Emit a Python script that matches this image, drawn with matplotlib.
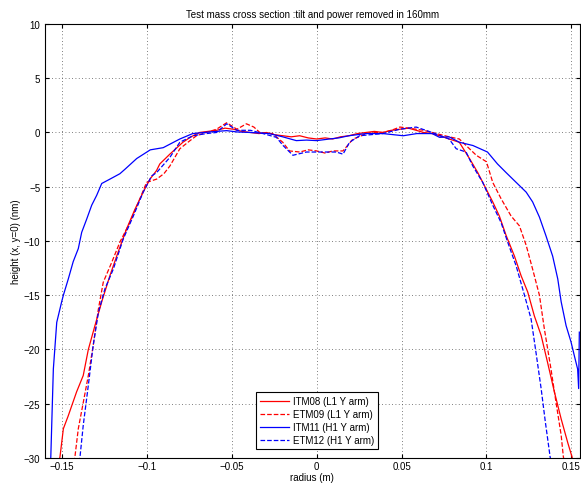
"""Test mass cross section: height profiles along radius."""

import numpy as np
import matplotlib.pyplot as plt

plt.rcParams['font.family'] = ['Liberation Sans', 'DejaVu Sans']

# ITM08 (L1 Y arm) - red solid
itm08_x = [-0.1600, -0.1595, -0.1530, -0.1512, -0.1492, -0.1463, -0.1443, -0.1414, -0.1375,
           -0.1345, -0.1306, -0.1266, -0.1218, -0.1169, -0.1120, -0.1071, -0.1022,
           -0.0982, -0.0943, -0.0924, -0.0865, -0.0788, -0.0740, -0.0690, -0.0640,
           -0.0590, -0.0540, -0.0490, -0.0440, -0.0390, -0.0340, -0.0296, -0.0250,
           -0.0200, -0.0150, -0.0100, -0.0050, 0.0000, 0.0050, 0.0094, 0.0140,
           0.0190, 0.0240, 0.0290, 0.0340, 0.0390, 0.0440, 0.0490, 0.0540, 0.0586,
           0.0630, 0.0680, 0.0724, 0.0780, 0.0840, 0.0900, 0.0949, 0.0988, 0.1037,
           0.1076, 0.1116, 0.1165, 0.1204, 0.1243, 0.1282, 0.1322, 0.1360, 0.1400,
           0.1440, 0.1479, 0.1504, 0.1520]
itm08_y = [-29.5, -31.0, -31.0, -29.9, -27.3, -26.1, -25.2, -23.9, -22.4,
           -20.0, -17.8, -15.6, -13.2, -11.0, -8.9, -7.1, -5.5,
           -4.3, -3.5, -2.9, -2.0, -0.9, -0.4, 0.0, 0.1,
           0.2, 0.4, 0.3, 0.1, 0.0, -0.1, 0.0, -0.2,
           -0.3, -0.4, -0.3, -0.5, -0.6, -0.5, -0.6, -0.4,
           -0.3, -0.1, 0.0, 0.1, 0.0, 0.2, 0.3, 0.4, 0.2,
           0.0, -0.1, -0.3, -0.6, -0.9, -2.4, -3.7, -4.9, -6.4,
           -7.7, -9.5, -11.4, -13.2, -14.7, -16.9, -18.7, -21.2, -23.9,
           -26.4, -28.6, -29.9, -31.0]

# ETM09 (L1 Y arm) - red dashed
etm09_x = [-0.1440, -0.1424, -0.1404, -0.1375, -0.1345, -0.1316, -0.1286, -0.1257,
           -0.1208, -0.1159, -0.1100, -0.1041, -0.1002, -0.0943, -0.0900, -0.0865,
           -0.0806, -0.0750, -0.0708, -0.0650, -0.0590, -0.0530, -0.0470, -0.0414,
           -0.0370, -0.0335, -0.0260, -0.0200, -0.0160, -0.0100, -0.0050, 0.0000,
           0.0050, 0.0094, 0.0155, 0.0214, 0.0250, 0.0290, 0.0340, 0.0390, 0.0440,
           0.0490, 0.0540, 0.0586, 0.0630, 0.0680, 0.0730, 0.0780, 0.0840, 0.0940,
           0.1000, 0.1037, 0.1086, 0.1145, 0.1194, 0.1234, 0.1272, 0.1312, 0.1341,
           0.1380, 0.1410, 0.1440, 0.1453, 0.1470]
etm09_y = [-31.0, -29.9, -27.3, -24.9, -22.4, -19.6, -16.3, -13.8,
           -12.0, -10.1, -8.3, -6.1, -4.6, -4.3, -3.8, -3.1,
           -1.5, -0.8, -0.3, 0.0, 0.3, 0.9, 0.3, 0.8,
           0.5, 0.0, -0.1, -0.9, -1.7, -1.8, -1.6, -1.7,
           -1.9, -1.7, -1.7, -0.6, -0.4, -0.1, 0.0, 0.0, 0.2,
           0.5, 0.4, 0.3, 0.2, 0.0, -0.2, -0.4, -0.6, -2.1,
           -2.7, -4.6, -6.1, -7.7, -8.6, -10.4, -12.6, -15.0, -18.1,
           -21.8, -24.9, -27.9, -29.9, -31.0]

# ITM11 (H1 Y arm) - blue solid
itm11_x = [-0.1570, -0.1566, -0.1551, -0.1531, -0.1502, -0.1492, -0.1463, -0.1434,
           -0.1404, -0.1384, -0.1355, -0.1325, -0.1296, -0.1266, -0.1218, -0.1159,
           -0.1130, -0.1060, -0.0980, -0.0904, -0.0806, -0.0730, -0.0630, -0.0530,
           -0.0470, -0.0390, -0.0280, -0.0200, -0.0120, -0.0060, 0.0000, 0.0076,
           0.0130, 0.0190, 0.0290, 0.0390, 0.0510, 0.0590, 0.0680, 0.0724, 0.0780,
           0.0840, 0.0920, 0.1006, 0.1065, 0.1116, 0.1175, 0.1234, 0.1272, 0.1312,
           0.1350, 0.1390, 0.1420, 0.1440, 0.1469, 0.1498, 0.1518, 0.1537, 0.1543,
           0.1547]
itm11_y = [-31.0, -29.9, -21.8, -17.5, -15.6, -15.0, -13.5, -11.9,
           -10.7, -9.2, -8.0, -6.7, -5.8, -4.7, -4.3, -3.8,
           -3.4, -2.4, -1.6, -1.4, -0.6, -0.1, 0.05, 0.17,
           0.05, 0.0, -0.1, -0.4, -0.75, -0.7, -0.75, -0.6,
           -0.5, -0.3, -0.1, -0.1, -0.3, -0.1, -0.1, -0.45, -0.4,
           -0.9, -1.2, -1.8, -2.9, -3.7, -4.6, -5.5, -6.4, -7.8,
           -9.5, -11.4, -13.5, -15.6, -17.8, -19.3, -20.6, -21.8, -23.6,
           -18.4]

# ETM12 (H1 Y arm) - blue dashed
etm12_x = [-0.1410, -0.1394, -0.1375, -0.1345, -0.1316, -0.1286, -0.1247, -0.1198,
           -0.1139, -0.1080, -0.1022, -0.0972, -0.0943, -0.0865, -0.0806, -0.0728,
           -0.0650, -0.0590, -0.0530, -0.0470, -0.0390, -0.0316, -0.0237, -0.0198,
           -0.0140, -0.0060, 0.0037, 0.0116, 0.0155, 0.0194, 0.0253, 0.0320, 0.0390,
           0.0490, 0.0586, 0.0680, 0.0780, 0.0822, 0.0880, 0.0920, 0.0978, 0.1037,
           0.1086, 0.1125, 0.1175, 0.1224, 0.1263, 0.1292, 0.1322, 0.1347, 0.1375,
           0.1390]
etm12_y = [-31.0, -29.9, -27.0, -23.3, -19.6, -16.6, -14.4, -12.6,
           -9.8, -7.7, -5.5, -4.0, -3.7, -2.3, -0.9, -0.3,
           -0.1, 0.0, 0.8, 0.2, 0.2, -0.1, -0.45, -1.2,
           -2.1, -1.8, -1.8, -1.8, -2.0, -0.9, -0.3, -0.2, -0.1,
           0.3, 0.5, 0.0, -0.6, -1.5, -1.8, -3.1, -4.6, -6.7,
           -8.3, -10.1, -12.3, -15.0, -17.2, -20.3, -23.6, -26.7, -29.9,
           -31.0]

series = [
    (itm08_x, itm08_y, 'ITM08 (L1 Y arm)', 'red', '-'),
    (etm09_x, etm09_y, 'ETM09 (L1 Y arm)', 'red', '--'),
    (itm11_x, itm11_y, 'ITM11 (H1 Y arm)', 'blue', '-'),
    (etm12_x, etm12_y, 'ETM12 (H1 Y arm)', 'blue', '--'),
]

fig = plt.figure(figsize=(5.81, 4.85), dpi=100)
ax = fig.add_axes([0.0775, 0.0536, 0.9205, 0.8949])

for x, y, label, color, ls in series:
    ax.plot(np.array(x), np.array(y), color=color, linestyle=ls, linewidth=0.9, label=label)

ax.set_xlim(-0.16, 0.155)
ax.set_ylim(-30, 10)
ax.set_xticks([-0.15, -0.1, -0.05, 0, 0.05, 0.1, 0.15])
ax.set_xticklabels(['\u22120.15', '\u22120.1', '\u22120.05', '0', '0.05', '0.1', '0.15'])
ax.set_yticks(range(-30, 11, 5))
ax.grid(True, linestyle=(0, (1, 3)), color='#555555', linewidth=0.6)
ax.tick_params(direction='in', labelsize=7, length=3, top=True, right=True)
ax.tick_params(axis='x', pad=2.5)
for s in ax.spines.values():
    s.set_linewidth(0.8)

ax.set_title('Test mass cross section :tilt and power removed in 160mm', fontsize=7, pad=5)
ax.set_xlabel('radius (m)', fontsize=7, labelpad=0.5)
ax.set_ylabel('height (x, y=0) (nm)', fontsize=7, labelpad=2)

leg = ax.legend(loc='lower center', bbox_to_anchor=(0.509, 0.01), fontsize=7,
                fancybox=False, edgecolor='black', framealpha=1,
                handlelength=3, borderpad=0.4, labelspacing=0.3, handletextpad=0.4)
leg.get_frame().set_linewidth(0.8)

plt.savefig('out.png', dpi=100)
plt.close()
